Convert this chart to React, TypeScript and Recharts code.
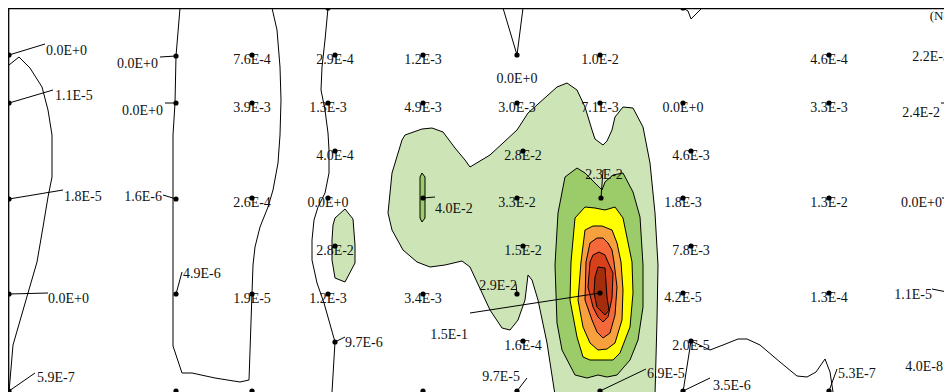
import React from 'react';
import { ScatterChart, Scatter, XAxis, YAxis, ReferenceLine } from 'recharts';

// ---- sample points (map units = image units) ----
const pointX = [9, 176, 252, 335, 423, 517, 600, 829, 962,
  9, 176, 252, 328, 423, 517, 600, 683, 829, 962,
  335, 523, 691,
  9, 176, 252, 328, 423, 517, 601, 683, 829, 962,
  335, 523, 691,
  9, 176, 252, 328, 423, 517, 600, 683, 829, 962,
  335, 523, 691,
  9, 517, 600, 683, 829, 958,
  328, 683, 176, 252, 423];
const pointY = [55, 56, 55, 55, 55, 55, 55, 55, 55,
  103, 103, 103, 103, 103, 103, 103, 103, 103, 103,
  151, 151, 151,
  199, 199, 198, 198, 198, 198, 198, 198, 198, 198,
  246, 246, 246,
  294, 294, 294, 294, 294, 294, 293, 293, 293, 295,
  342, 341, 341,
  391, 391, 391, 391, 391, 391,
  8, 8, 391, 391, 391];
const pointLabels = ['0.0E+0', '0.0E+0', '7.6E-4', '2.9E-4', '1.2E-3', '0.0E+0', '1.0E-2', '4.6E-4', '2.2E-3',
  '1.1E-5', '0.0E+0', '3.9E-3', '1.3E-3', '4.9E-3', '3.0E-3', '7.1E-3', '0.0E+0', '3.3E-3', '2.4E-2',
  '4.0E-4', '2.8E-2', '4.6E-3',
  '1.8E-5', '1.6E-6', '2.6E-4', '0.0E+0', '4.0E-2', '3.3E-2', '2.3E-2', '1.8E-3', '1.3E-2', '0.0E+0',
  '2.8E-2', '1.5E-2', '7.8E-3',
  '0.0E+0', '4.9E-6', '1.9E-5', '1.2E-3', '3.4E-3', '2.9E-2', '1.5E-1', '4.2E-5', '1.3E-4', '1.1E-5',
  '9.7E-6', '1.6E-4', '2.0E-5',
  '5.9E-7', '9.7E-5', '6.9E-5', '3.5E-6', '5.3E-7', '4.0E-8',
  '', '', '', '', ''];
const cornerNote = '(No';

// ---- contour polygons (filled levels) ----
const levelLightGreen: [number, number][] = [
  [405, 135], [422, 129], [432, 128], [443, 132], [455, 148], [465, 160], [470, 167], [490, 155], [517, 130],
  [528, 113], [557, 87], [567, 83], [577, 90], [585, 107], [592, 130], [595, 139], [603, 145], [607, 141],
  [612, 130], [615, 117], [623, 107], [633, 108], [643, 127], [650, 163], [655, 213], [658, 265], [657, 320],
  [655, 395], [555, 395], [547, 343], [538, 300], [532, 280], [528, 275], [525, 300], [518, 320], [510, 330],
  [502, 328], [490, 310], [470, 267], [462, 261], [445, 265], [430, 267], [417, 262], [403, 250], [392, 230],
  [388, 213], [392, 173], [402, 140]];
const levelLightGreenWest: [number, number][] = [
  [335, 218], [345, 209], [353, 219], [355, 245], [355, 263], [345, 282], [335, 278], [332, 260], [332, 240], [333, 225]];
const levelGreenSliver: [number, number][] = [
  [420, 177], [422, 173], [425, 177], [425, 218], [422, 222], [420, 218]];
const levelGreen: [number, number][] = [
  [558, 213], [565, 177], [577, 168], [585, 173], [602, 190], [605, 182], [613, 175], [623, 173], [633, 192],
  [640, 217], [643, 265], [643, 307], [638, 340], [630, 360], [617, 375], [607, 377], [598, 375], [587, 378],
  [575, 375], [562, 350], [557, 323], [555, 265]];
const levelYellow: [number, number][] = [
  [575, 218], [585, 207], [595, 208], [605, 210], [615, 207], [623, 218], [632, 262], [633, 293], [630, 327],
  [620, 353], [613, 360], [590, 360], [583, 357], [577, 337], [570, 300], [571, 262]];
const levelOrange: [number, number][] = [
  [585, 230], [593, 226], [602, 226], [612, 230], [617, 243], [621, 262], [623, 290], [622, 320], [615, 343],
  [607, 349], [598, 350], [590, 343], [583, 327], [578, 300], [581, 262]];
const levelRedOrange: [number, number][] = [
  [590, 243], [597, 238], [603, 238], [608, 243], [612, 250], [614, 262], [617, 287], [615, 315], [610, 333],
  [603, 338], [597, 332], [592, 320], [585, 300], [586, 262]];
const levelRed: [number, number][] = [
  [593, 255], [599, 252], [605, 255], [608, 262], [613, 273], [612, 298], [608, 317], [603, 322], [598, 317],
  [593, 307], [588, 287], [590, 262]];
const levelDarkRed: [number, number][] = [
  [598, 267], [605, 268], [607, 297], [609, 310], [605, 315], [597, 307], [594, 293], [595, 277]];

// ---- open contour lines ----
const lineWest: [number, number][] = [
  [9, 65], [19, 57], [30, 68], [42, 87], [48, 110], [52, 135], [52, 177], [48, 197], [43, 227], [37, 262],
  [28, 293], [13, 345], [9, 392]];
const lineSecond: [number, number][] = [
  [180, 8], [176, 56], [175, 103], [173, 135], [173, 199], [173, 260], [173, 346], [182, 373], [192, 373],
  [215, 378], [240, 382], [249, 380], [252, 293], [253, 265], [255, 247], [260, 227], [268, 207], [273, 190],
  [278, 163], [280, 135], [281, 100], [280, 67], [277, 30], [272, 8]];
const lineThird: [number, number][] = [
  [328, 8], [325, 40], [322, 67], [321, 90], [325, 110], [328, 133], [329, 150], [329, 173], [325, 193],
  [318, 207], [314, 220], [312, 240], [312, 260], [317, 283], [324, 303], [335, 342], [332, 392]];
const lineNotch: [number, number][] = [[503, 8], [517, 55], [523, 8]];
const lineNotchEast: [number, number][] = [[683, 8], [688, 11], [691, 19], [702, 8]];
const lineSouthEast: [number, number][] = [
  [683, 392], [691, 341], [710, 350], [723, 345], [738, 339], [747, 339], [760, 345], [780, 362], [797, 376],
  [807, 377], [816, 372], [825, 359], [830, 372], [833, 392]];

// label placement (layout only): [anchor, textDx, textDy, leaderDx, leaderDy]
type Place = [string, number, number, number | null, number | null];
const DEF: Place = ['middle', 0, 9, null, null];
const placements: Place[] = [
  ['start', 37, 0, 36, -11], ['end', -18, 12, -16, 1], DEF, DEF, DEF, ['middle', 0, 28, null, null], DEF, DEF,
  ['end', -12, 6, -11, 1],
  ['start', 46, -3, 44, -13], ['end', -13, 12, -11, 0], DEF, DEF, DEF, DEF, DEF, DEF, DEF, ['end', -22, 14, -21, 0],
  DEF, DEF, DEF,
  ['start', 55, 2, 54, -9], ['end', -14, 2, -13, -4], DEF, DEF, ['start', 12, 15, 12, -1], DEF,
  ['middle', 3, -19, 2, -28], DEF, DEF, ['end', -20, 9, -20, 0],
  DEF, DEF, DEF,
  ['start', 39, 9, 39, -1], ['start', 7, -16, 6, -22], DEF, DEF, DEF, ['end', 0, -4, -1, -10],
  ['end', -132, 46, -130, 20], DEF, DEF, ['end', -30, 4, -30, -6],
  ['start', 10, 5, 10, -5], DEF, DEF,
  ['start', 28, -9, 26, -18], ['end', 3, -10, 10, -13], ['start', 47, -13, 46, -22], ['start', 30, -1, 27, -13],
  ['start', 9, -13, 8, -22], ['end', -15, -20, -13, -28],
  DEF, DEF, DEF, DEF, DEF];

const pointData = pointX.map((x, i) => ({ x, y: pointY[i], label: pointLabels[i], place: placements[i] }));
const toXY = (arr: [number, number][]) => arr.map(([x, y]) => ({ x, y }));

const FONT = '"Liberation Serif", "Times New Roman", serif';

const PointShape = (props: any) => {
  const { cx, cy, payload } = props;
  const [anchor, tdx, tdy, ldx, ldy] = payload.place as Place;
  return (
    <g>
      {ldx !== null && ldy !== null && (
        <line x1={cx} y1={cy} x2={cx + ldx} y2={cy + ldy} stroke="#000" strokeWidth={1} />
      )}
      {payload.label && (
        <text x={cx + tdx} y={cy + tdy} textAnchor={anchor as any} fontFamily={FONT} fontSize={14} fill="#111">
          {payload.label}
        </text>
      )}
      <circle cx={cx} cy={cy} r={2.6} fill="#000" />
    </g>
  );
};

const noShape = () => null;

const polys: { data: [number, number][]; fill: string }[] = [
  { data: levelLightGreen, fill: '#cde5b6' },
  { data: levelLightGreenWest, fill: '#cde5b6' },
  { data: levelGreenSliver, fill: '#9bcc69' },
  { data: levelGreen, fill: '#9bcc69' },
  { data: levelYellow, fill: '#ffff00' },
  { data: levelOrange, fill: '#f7a13e' },
  { data: levelRedOrange, fill: '#f4683a' },
  { data: levelRed, fill: '#d6401a' },
  { data: levelDarkRed, fill: '#a32d0c' },
];
const lines = [lineWest, lineSecond, lineThird, lineNotch, lineNotchEast, lineSouthEast];

export default function App() {
  return (
    <div style={{ width: 944, height: 384, overflow: 'hidden' }}>
      <ScatterChart width={944} height={384} margin={{ top: 0, right: 0, bottom: 0, left: 0 }}>
        <XAxis type="number" dataKey="x" domain={[8, 952]} hide allowDataOverflow />
        <YAxis type="number" dataKey="y" domain={[8, 392]} reversed hide allowDataOverflow />
        {polys.map((p, i) => (
          <Scatter
            key={'p' + i}
            data={toXY(p.data)}
            line={{ fill: p.fill, stroke: '#000', strokeWidth: 1 }}
            lineJointType="linearClosed"
            shape={noShape}
            isAnimationActive={false}
          />
        ))}
        {lines.map((l, i) => (
          <Scatter
            key={'l' + i}
            data={toXY(l)}
            line={{ fill: 'none', stroke: '#000', strokeWidth: 1 }}
            lineJointType="linear"
            shape={noShape}
            isAnimationActive={false}
          />
        ))}
        <ReferenceLine
          y={8.7}
          stroke="#000"
          strokeWidth={1.3}
          label={{ value: cornerNote, position: 'insideTopRight', offset: 2, fontSize: 13, fill: '#111', fontFamily: FONT }}
        />
        <ReferenceLine x={8.7} stroke="#000" strokeWidth={1.3} />
        <Scatter data={pointData} shape={PointShape} isAnimationActive={false} />
      </ScatterChart>
    </div>
  );
}
